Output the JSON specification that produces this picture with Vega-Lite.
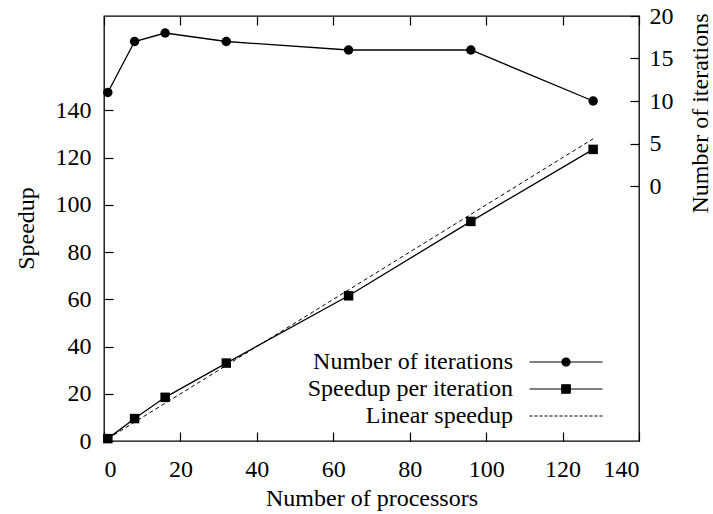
{
  "$schema": "https://vega.github.io/schema/vega-lite/v6.json",
  "width": 535,
  "height": 425,
  "autosize": {"type": "none"},
  "padding": {"left": 104, "top": 16, "right": 74, "bottom": 73},
  "background": "white",
  "config": {
    "view": {"stroke": "black", "strokeWidth": 1.3},
    "font": "Liberation Serif",
    "axis": {
      "grid": false,
      "domain": false,
      "tickColor": "black",
      "tickSize": -9,
      "tickWidth": 1.2,
      "labelFont": "Liberation Serif",
      "labelFontSize": 24,
      "labelColor": "black",
      "titleFont": "Liberation Serif",
      "titleFontSize": 24,
      "titleFontWeight": "normal",
      "titleColor": "black"
    },
    "legend": {
      "labelFont": "Liberation Serif",
      "labelFontSize": 24,
      "labelColor": "black",
      "labelAlign": "right",
      "labelOffset": -65,
      "labelLimit": 400,
      "symbolSize": 100,
      "symbolStrokeWidth": 1.2,
      "rowPadding": 3,
      "padding": 0
    }
  },
  "data": {
    "values": [
      {"processors": 1, "value": 1, "series": "Linear speedup"},
      {"processors": 128, "value": 128, "series": "Linear speedup"},
      {"processors": 1, "value": 1, "series": "Speedup per iteration"},
      {"processors": 8, "value": 9.5, "series": "Speedup per iteration"},
      {"processors": 16, "value": 18.5, "series": "Speedup per iteration"},
      {"processors": 32, "value": 33, "series": "Speedup per iteration"},
      {"processors": 64, "value": 61.5, "series": "Speedup per iteration"},
      {"processors": 96, "value": 93, "series": "Speedup per iteration"},
      {"processors": 128, "value": 123.5, "series": "Speedup per iteration"},
      {"processors": 1, "value": 11, "series": "Number of iterations"},
      {"processors": 8, "value": 17, "series": "Number of iterations"},
      {"processors": 16, "value": 18, "series": "Number of iterations"},
      {"processors": 32, "value": 17, "series": "Number of iterations"},
      {"processors": 64, "value": 16, "series": "Number of iterations"},
      {"processors": 96, "value": 16, "series": "Number of iterations"},
      {"processors": 128, "value": 10, "series": "Number of iterations"}
    ]
  },
  "encoding": {
    "color": {
      "field": "series",
      "type": "nominal",
      "scale": {
        "domain": ["Number of iterations", "Speedup per iteration", "Linear speedup"],
        "range": ["black", "black", "black"]
      },
      "legend": {
        "title": null,
        "orient": "none",
        "legendX": 450,
        "legendY": 334,
        "encode": {
          "symbols": {
            "update": {
              "shape": {"signal": "datum.value === 'Number of iterations' ? 'M-7.3,0H7.3M0.8,0A0.8,0.8,0,1,1,-0.8,0A0.8,0.8,0,1,1,0.8,0Z' : (datum.value === 'Speedup per iteration' ? 'M-7.3,0H7.3M-0.85,-0.85H0.85V0.85H-0.85Z' : 'M-7.3,0H7.3')"},
              "strokeDash": {"signal": "datum.value === 'Linear speedup' ? [3,2] : [1,0]"},
              "fill": {"value": "black"},
              "stroke": {"value": "black"},
              "opacity": {"value": 1},
              "fillOpacity": {"value": 1}
            }
          }
        }
      }
    }
  },
  "layer": [
    {
      "encoding": {
        "x": {
          "field": "processors",
          "type": "quantitative",
          "scale": {"domain": [0, 140], "nice": false},
          "axis": {
            "orient": "bottom",
            "values": [0, 20, 40, 60, 80, 100, 120, 140],
            "title": "Number of processors",
            "labelPadding": 25,
            "titleY": 57,
            "titleBaseline": "middle"
          }
        },
        "y": {
          "field": "value",
          "type": "quantitative",
          "scale": {"domain": [0, 180], "nice": false},
          "axis": {
            "orient": "left",
            "values": [0, 20, 40, 60, 80, 100, 120, 140],
            "title": "Speedup",
            "labelPadding": 22,
            "titleAngle": 270,
            "titleX": -78,
            "titleY": 212,
            "titleAlign": "center",
            "titleBaseline": "middle"
          }
        }
      },
      "layer": [
        {
          "transform": [{"filter": "datum.series === 'Linear speedup'"}],
          "mark": {"type": "line", "strokeDash": [4, 3], "strokeWidth": 1}
        },
        {
          "transform": [{"filter": "datum.series === 'Speedup per iteration'"}],
          "mark": {"type": "line", "strokeWidth": 1.3}
        },
        {
          "transform": [{"filter": "datum.series === 'Speedup per iteration'"}],
          "mark": {"type": "point", "shape": "square", "filled": true, "size": 90, "opacity": 1}
        }
      ]
    },
    {
      "encoding": {
        "x": {
          "field": "processors",
          "type": "quantitative",
          "scale": {"domain": [0, 140], "nice": false},
          "axis": {
            "orient": "top",
            "values": [0, 20, 40, 60, 80, 100, 120, 140],
            "labels": false,
            "title": null
          }
        },
        "y": {
          "field": "value",
          "type": "quantitative",
          "scale": {"domain": [-30, 20], "nice": false},
          "axis": {
            "orient": "right",
            "values": [0, 5, 10, 15, 20],
            "title": "Number of iterations",
            "labelPadding": 19,
            "titleAngle": 270,
            "titleX": 61,
            "titleY": 97,
            "titleAlign": "center",
            "titleBaseline": "middle"
          }
        }
      },
      "layer": [
        {
          "transform": [{"filter": "datum.series === 'Number of iterations'"}],
          "mark": {"type": "line", "strokeWidth": 1.3}
        },
        {
          "transform": [{"filter": "datum.series === 'Number of iterations'"}],
          "mark": {"type": "point", "shape": "circle", "filled": true, "size": 90, "opacity": 1}
        }
      ]
    }
  ],
  "resolve": {"scale": {"y": "independent"}, "axis": {"x": "independent"}}
}
